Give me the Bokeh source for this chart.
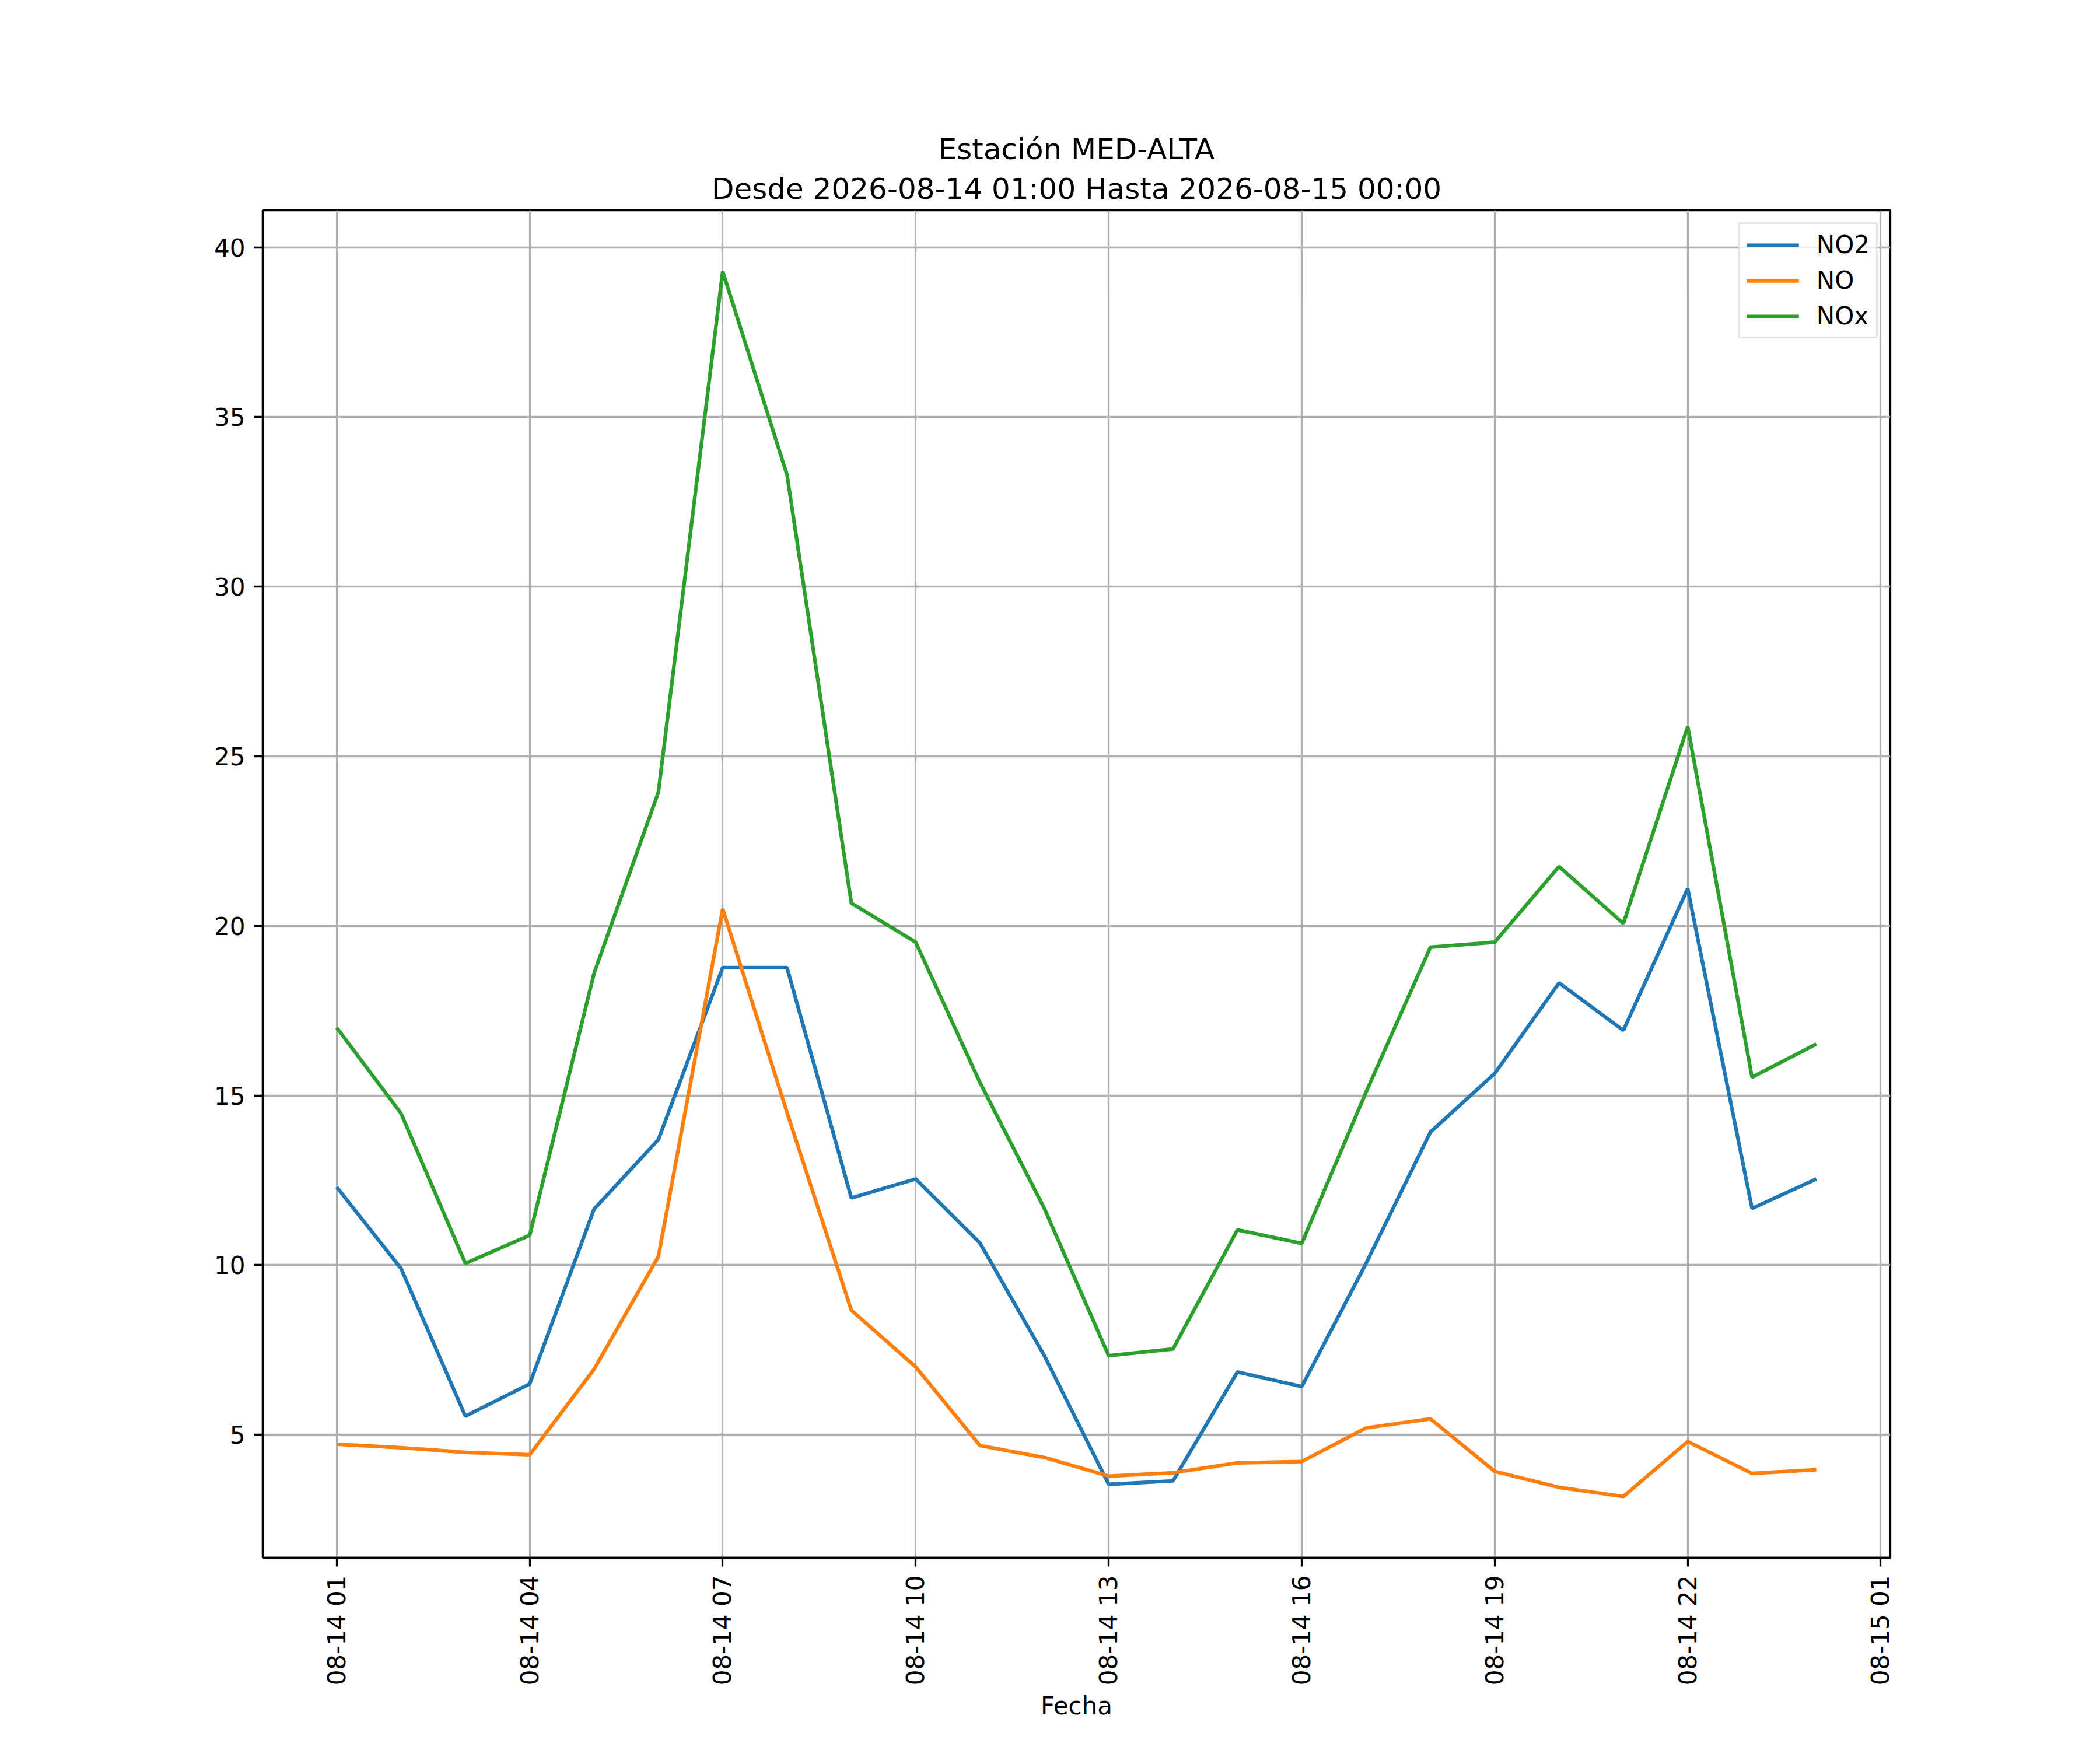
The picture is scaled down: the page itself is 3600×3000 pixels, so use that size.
import math
import pandas as pd
from bokeh.plotting import figure
from bokeh.models import Range1d, FixedTicker, DatetimeTickFormatter, Legend, LegendItem, ColumnDataSource, Title
from bokeh.embed import file_html
from bokeh.resources import INLINE

# ---- data ----
start = "2026-08-14 01:00"
times = pd.date_range(start, periods=24, freq="h")
no2 = [12.3, 9.9, 5.55, 6.5, 11.65, 13.7, 18.77, 18.77, 11.98, 12.54, 10.65, 7.33,
       3.54, 3.64, 6.85, 6.42, 10.05, 13.92, 15.65, 18.32, 16.92, 21.1, 11.67, 12.54]
no = [4.72, 4.62, 4.48, 4.41, 6.93, 10.25, 20.5, 14.5, 8.67, 7.0, 4.68, 4.33,
      3.78, 3.88, 4.17, 4.21, 5.2, 5.47, 3.92, 3.45, 3.18, 4.8, 3.86, 3.97]
nox = [17.0, 14.47, 10.05, 10.88, 18.6, 23.94, 39.29, 33.3, 20.67, 19.52, 15.38, 11.67,
       7.33, 7.53, 11.04, 10.64, 15.1, 19.37, 19.52, 21.75, 20.07, 25.88, 15.54, 16.52]
series_names = ["NO2", "NO", "NOx"]
series_colors = ["#1f77b4", "#ff7f0e", "#2ca02c"]
y_ticks = [5, 10, 15, 20, 25, 30, 35, 40]
x_tick_times = pd.date_range("2026-08-14 01:00", "2026-08-15 01:00", freq="3h")
title_line1 = "Estación MED-ALTA"
title_line2 = "Desde 2026-08-14 01:00 Hasta 2026-08-15 00:00"
x_label = "Fecha"

FONT = "DejaVu Sans"
W, H = 3584, 2984

ms = lambda t: t.value / 1e6
t0 = ms(times[0])
t1 = ms(times[-1])
span = t1 - t0
x_min, x_max = t0 - 0.05 * span, t1 + 0.05 * span
all_vals = no2 + no + nox
vmin, vmax = min(all_vals), max(all_vals)
vr = vmax - vmin

p = figure(width=W, height=H, output_backend="svg", toolbar_location=None,
           x_axis_type="datetime",
           x_range=Range1d(x_min, x_max),
           y_range=Range1d(vmin - 0.05 * vr, vmax + 0.05 * vr),
           min_border_left=450, min_border_right=344,
           min_border_top=360, min_border_bottom=314)
p.background_fill_color = "white"
p.border_fill_color = "white"
p.outline_line_color = "black"
p.outline_line_width = 3.3
p.title = None

t2 = Title(text=title_line2, text_font=FONT, text_font_size="50px", text_font_style="normal",
           align="center", text_color="black", standoff=16)
p.add_layout(t2, "above")
t1_ = Title(text=title_line1, text_font=FONT, text_font_size="50px", text_font_style="normal",
            align="center", text_color="black", standoff=0, text_line_height=0.75)
p.add_layout(t1_, "above")

src = ColumnDataSource(dict(t=list(times), NO2=no2, NO=no, NOx=nox))
renderers = []
for name, col in zip(series_names, series_colors):
    r = p.line("t", name, source=src, line_color=col, line_width=6.25)
    renderers.append(r)

for ax in (p.xaxis[0], p.yaxis[0]):
    ax.axis_line_color = "black"
    ax.axis_line_width = 3.3
    ax.major_tick_line_color = "black"
    ax.major_tick_line_width = 3.3
    ax.major_tick_out = 15
    ax.major_tick_in = 0
    ax.minor_tick_line_color = None
    ax.major_label_text_font = FONT
    ax.major_label_text_font_size = "42px"
    ax.major_label_text_color = "black"
    ax.major_label_standoff = 15

p.yaxis[0].ticker = FixedTicker(ticks=y_ticks)
p.xaxis[0].ticker = FixedTicker(ticks=[ms(t) for t in x_tick_times])
p.xaxis[0].formatter = DatetimeTickFormatter(hours="%m-%d %H", days="%m-%d %H",
                                             hourmin="%m-%d %H", minutes="%m-%d %H")
p.xaxis[0].major_label_orientation = math.pi / 2
p.xaxis[0].axis_label = x_label
p.xaxis[0].axis_label_text_font = FONT
p.xaxis[0].axis_label_text_font_size = "42px"
p.xaxis[0].axis_label_text_font_style = "normal"
p.xaxis[0].axis_label_text_color = "black"
p.xaxis[0].axis_label_standoff = 8

p.xgrid.ticker = p.xaxis[0].ticker
p.ygrid.ticker = p.yaxis[0].ticker
for g in (p.xgrid[0], p.ygrid[0]):
    g.grid_line_color = "#b0b0b0"
    g.grid_line_width = 3.3

legend = Legend(items=[LegendItem(label=n, renderers=[r]) for n, r in zip(series_names, renderers)],
                location="top_right")
legend.margin = 21
legend.padding = 11
legend.spacing = 12
legend.glyph_width = 90
legend.glyph_height = 40
legend.label_height = 40
legend.label_standoff = 30
legend.label_text_font = FONT
legend.label_text_font_size = "42px"
legend.label_text_color = "black"
legend.border_line_color = "#cccccc"
legend.border_line_width = 3.3
legend.background_fill_color = "white"
legend.background_fill_alpha = 0.8
p.add_layout(legend, "center")

open("out.html", "w").write(file_html(p, INLINE))
